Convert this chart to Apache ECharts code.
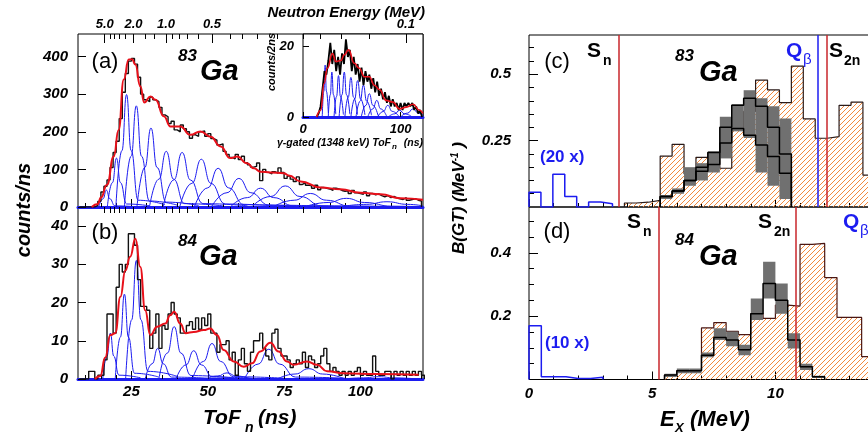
<!DOCTYPE html>
<html><head><meta charset="utf-8">
<script src="https://cdn.jsdelivr.net/npm/echarts@6/dist/echarts.min.js"></script>
<style>html,body{margin:0;padding:0;background:#fff}#c{width:868px;height:437px}</style>
</head><body><div id="c"></div>
<script>
// ---------------- DATA ----------------
// ToF histogram (a) 83Ga, 1 ns bins starting at 8 ns
const histAStart = 8, histAWidth = 1;
const histA = [0,0,0,0,0,4,15,40,55,72,105,145,175,235,305,355,388,395,380,345,300,285,280,292,285,280,265,245,240,222,228,205,200,218,208,200,183,192,188,200,202,188,195,182,178,165,168,148,140,132,128,140,126,135,118,112,106,108,117,70,100,92,88,94,90,104,92,76,82,74,68,80,60,64,58,56,50,58,46,52,50,48,44,50,48,44,42,43,36,44,38,36,34,40,30,36,32,35,30,27,30,25,28,24,22,20,25,18,20,22,18,16];
// fit (a) [ToF, counts/ns]
const fitA = [[12,0],[14,8],[15,25],[17,59],[19.2,134],[20.8,205],[22.5,339],[24.1,392],[25.2,393],[26.3,379],[27.9,321],[29.2,278],[31.2,294],[32.9,285],[35.6,241],[37.8,214],[41,214],[44.3,192],[47.6,201],[50.9,187],[54.2,161],[57.4,130],[59.6,134],[62.9,116],[65.1,103],[67.3,94],[70.5,92],[74.9,90],[76.5,84],[80.4,68],[86.9,52],[93.5,47],[100,38],[106.6,34],[113.1,23],[120.5,19]];
// individual response components (a)
const peaksA = [
 [[14.3,0],[15.7,22],[16.8,45],[17.9,22],[19.6,3],[26,1]],
 [[17.1,0],[18.8,65],[20.1,130],[21.4,65],[23.4,8],[31,3]],
 [[19.9,0],[21.9,150],[23.4,299],[24.9,150],[27.2,18],[36,6]],
 [[22.7,0],[24.9,135],[26.6,269],[28.3,135],[30.9,16],[40,5]],
 [[26.8,0],[29.4,105],[31.4,210],[33.4,105],[36.4,13],[47,4]],
 [[30.9,0],[34,74],[36.4,148],[38.8,74],[42.4,9],[55,3]],
 [[35.4,0],[38.9,72],[41.6,145],[44.3,72],[48.4,9],[63,3]],
 [[40.8,0],[44.8,63],[47.9,127],[51,63],[55.7,8],[72,3]],
 [[45.6,0],[50,51],[53.4,103],[56.8,51],[61.9,6],[80,2]],
 [[51.2,0],[56.3,38],[60.2,76],[64.1,38],[70,5],[90,2]],
 [[57.4,0],[63,25],[67.3,50],[71.6,25],[78,3],[100,1]],
 [[64.4,0],[70.6,28],[75.4,56],[80.2,28],[87.4,3],[110,1]],
 [[71.4,0],[78.3,18],[83.6,36],[88.9,18],[96.8,2],[118,1]],
 [[81.6,0],[89.4,12],[95.4,23],[101.4,12],[110.4,2],[120.5,1]],
 [[93,0],[101.9,7],[108.7,14],[115.5,7],[120.5,3]]
];
// ToF histogram (b) 84Ga, 1 ns bins starting at 8 ns
const histBStart = 8, histBWidth = 1;
const histB = [0,0,0,2,2,0,1,1,5,17,17,12,24,30,28,30,38,38,35,26,19,19,18,8,12,17,8,14,13,17,20,17,16,12,12,14,15,13,16,13,16,14,17,12,12,7,9,9,10,5,7,1,5,8,4,2,7,10,10,12,8,6,5,12,13,8,6,6,5,3,4,5,4,7,3,6,5,3,4,6,8,4,2,3,2,1,2,1,2,1,2,3,1,2,1,1,6,2,1,1,2,2,0,2,1,2,1,2,1,2,1,2,1];
const fitB = [[13,0],[14.8,0.8],[16.4,5.6],[18.1,11.5],[19.7,12],[21.4,21.5],[23,28.4],[24.6,32],[26.3,36.7],[27.9,29.3],[29.5,18],[31.2,11.5],[33.4,13.7],[36.1,14.5],[37.7,16.7],[39,17.6],[41,14.5],[42.7,12],[45.4,12.3],[48.7,12.8],[50.8,13.2],[53,11.5],[55.2,7.6],[58.5,4.6],[61.8,3.2],[64.5,4.1],[67.2,7.2],[70.5,9.5],[73.2,7.2],[75.9,4.6],[78.1,3.7],[82.5,4.6],[85.8,3.7],[89.1,2],[94.5,1.5],[105.4,1.3],[119.1,1.1]];
const peaksB = [
 [[15.6,0],[17,6],[18.1,12],[19.2,6],[20.9,1],[28,0.3]],
 [[19.7,0],[21.4,11],[22.7,22.2],[24,11],[26,1.5],[34,0.5]],
 [[23.1,0],[25.1,15.5],[26.6,31],[28.1,15.5],[30.4,2],[40,0.7]],
 [[29.5,0],[31.8,4],[33.6,8],[35.4,4],[38.1,0.5],[50,0.2]],
 [[34,0],[36.8,6.8],[39,13.7],[41.2,6.8],[44.5,0.9],[58,0.3]],
 [[39.6,0],[42.9,3.7],[45.4,7.4],[47.9,3.7],[51.6,0.5],[65,0.2]],
 [[45,0],[48.6,4.6],[51.4,9.3],[54.2,4.6],[58.4,0.6],[75,0.2]],
 [[49.4,0],[53.3,0.8],[56.3,1.6],[59.3,0.8],[63.8,0.1]],
 [[62,0],[66.5,3.9],[70,7.8],[73.5,3.9],[78.8,0.5],[95,0.2]],
 [[72.8,0],[78.6,1.3],[83.1,2.7],[87.6,1.3],[94.4,0.2]],
 [[94.5,0],[101,0.3],[106,0.6],[111,0.3],[118,0.05]]
];
// inset: gamma-gated ToF, 2 ns bins from 14 ns
const histInStart = 14, histInWidth = 2;
const histIn = [0,1,3,8,13,12,16,21,15,19,13,17,12,18,15,22,17,19,13,17,12,15,10,14,9,13,10,12,8,11,7,10,6,8,5,7,4,6,3,5,3,4,2,4,2,4,3,4,3,4,2,3,1,2];
const fitIn = [[14,0],[18.2,1.9],[21.6,9.5],[25,13.8],[30.2,18],[33.7,15.7],[38.8,16],[42.3,17.6],[46.7,19],[52.6,15.2],[57.7,13.8],[62.9,11.4],[68,11.4],[73.2,9],[78.4,7.8],[85.2,4.7],[92.1,4.2],[99,2.3],[105.9,2.8],[112.7,3.6],[119.6,1.9],[123,1]];
const peaksIn = [
 [[19.7,0],[21.4,7.3],[22.7,14.7],[24,7.3],[26,1]],
 [[25.9,0],[28,6.3],[29.6,12.7],[31.2,6.3],[33.6,0.8]],
 [[31.8,0],[34.4,5.8],[36.4,11.7],[38.4,5.8],[41.4,0.7]],
 [[37,0],[40,6.3],[42.3,12.7],[44.6,6.3],[48,0.8]],
 [[42.9,0],[46.4,5.6],[49.1,11.2],[51.8,5.6],[55.9,0.7]],
 [[49.1,0],[53,5.1],[56,10.3],[59,5.1],[63.5,0.6]],
 [[54.3,0],[58.6,4.5],[61.9,9],[65.2,4.5],[70.2,0.5]],
 [[59.7,0],[64.4,3.3],[68,6.6],[71.6,3.3],[77,0.4]],
 [[66.4,0],[71.6,2.3],[75.6,4.7],[79.6,2.3],[85.6,0.3]],
 [[76.5,0],[82.4,1.6],[86.9,3.3],[91.4,1.6],[98.2,0.2]],
 [[87.5,0],[94,0.9],[99,1.9],[104,0.9],[111.5,0.1]],
 [[100,0],[107.2,1.1],[112.7,2.3],[118.2,1.1],[123,0.5]]
];
// neutron energy ticks (MeV) on top axis; flight-path constant E*t^2 (MeV ns^2)
const flightK = 1320;
const energyMajor = [5, 2, 1, 0.5, 0.1];
const energyLabels = ['5.0', '2.0', '1.0', '0.5', '0.1'];
const energyMinor = [4, 3.5, 3, 2.5, 1.5, 1.25, 0.9, 0.8, 0.7, 0.6, 0.4, 0.35, 0.3, 0.25, 0.2, 0.175, 0.15, 0.125];
const tofMajor = [25, 50, 75, 100];
const tofMinor = [10, 15, 20, 30, 35, 40, 45, 55, 60, 65, 70, 80, 85, 90, 95, 105, 110, 115, 120];

// B(GT) panel (c) 83Ga, bin width 0.484 MeV from 0
const binWC = 0.484;
const blueC = [0.056, 0, 0.123, 0.040, 0, 0.019, 0.012];          // bins 0..6 (x20)
const orangeCStartBin = 8;
const orangeC = [0.015,0.018,0.025,0.192,0.236,0.125,0.187,0.205,0.146,0.30,0.36,0.478,0.441,0.393,0.531,0.332,0.259,0.265,0.383,0.395,0.12];
const bandCStartBin = 11;
const bandCLow  = [0.030,0.050,0.080,0.100,0.130,0.183,0.285,0.260,0.130,0.080,0.030];
const bandCHigh = [0.045,0.070,0.150,0.165,0.210,0.340,0.387,0.440,0.410,0.380,0.333];
const blackC = [0.040,0.060,0.100,0.135,0.160,0.241,0.296,0.270,0.234,0.190,0.127];
const blackC2 = [0.040,0.060,0.100,0.150,0.205,0.300,0.383,0.410,0.380,0.300,0.200];
// B(GT) panel (d) 84Ga, bin width 0.5 MeV from 0
const binWD = 0.5;
const blueD = [0.17, 0.009, 0.009, 0.003, 0.003, 0.007];
const orangeDStartBin = 11;
const orangeD = [0.014,0.028,0.030,0.163,0.180,0.152,0.142,0.208,0.193,0.235,0.232,0.427,0.430,0.322,0.196,0.196,0.072];
const bandDStartBin = 11;
const bandDLow  = [0.008,0.020,0.020,0.070,0.125,0.105,0.077,0.188,0.256,0.208,0.098,0.030,0.005];
const bandDHigh = [0.018,0.035,0.035,0.085,0.162,0.152,0.110,0.256,0.372,0.303,0.146,0.050,0.012];
const blackD = [0.014,0.028,0.028,0.077,0.133,0.125,0.094,0.208,0.303,0.250,0.125,0.040,0.009];
// thresholds (MeV)
const snC = 3.64, qbC = 11.73, s2nC = 12.07;
const snD = 5.26, s2nD = 10.83, qbD = 14.0;

// ---------------- HELPERS ----------------
const FONT = 'Liberation Sans';
const BLUE = '#1c1cf0', RED = '#e8101a', LRED = '#c8262b';
function histPts(start, width, vals) {
  const p = [[start, 0]];
  vals.forEach((v, i) => p.push([start + i * width, v]));
  const end = start + vals.length * width;
  p.push([end, vals[vals.length - 1]]);
  p.push([end, 0]);
  return p;
}
function bandData(startBin, w, lo, hi) {
  return lo.map((l, i) => [(startBin + i) * w, (startBin + i + 1) * w, l, hi[i]]);
}
const tof = e => Math.sqrt(flightK / e);
function hatch() {
  const c = document.createElement('canvas'); c.width = 5; c.height = 5;
  const g = c.getContext('2d');
  g.strokeStyle = '#f28a3e'; g.lineWidth = 1;
  g.beginPath();
  g.moveTo(0, 5); g.lineTo(5, 0);
  g.moveTo(-1, 1); g.lineTo(1, -1);
  g.moveTo(4, 6); g.lineTo(6, 4);
  g.stroke();
  return c;
}
const lbl = (size) => ({fontFamily: FONT, fontWeight: 'bold', fontStyle: 'italic', fontSize: size, color: '#000'});
function tickAxis(grid, pos, min, max, vals, len, extra) {
  return Object.assign({type: 'value', gridIndex: grid, position: pos, min, max,
    axisLine: {show: false}, splitLine: {show: false},
    axisLabel: {show: false},
    axisTick: {show: true, inside: true, length: len, customValues: vals, lineStyle: {color: '#000', width: 1}}}, extra || {});
}
function T(x, y, text, size, o) {
  o = o || {};
  return {type: 'text', x, y, rotation: o.r || 0, silent: true, z: 100,
    style: {text, fontFamily: FONT, fontSize: size, fontWeight: o.w || 'bold',
      fontStyle: o.i === false ? 'normal' : 'italic', fill: o.c || '#000',
      align: o.a || 'left', verticalAlign: 'middle', rich: o.rich}};
}

// ---------------- CHART ----------------
const chart = echarts.init(document.getElementById('c'), null, {renderer: 'canvas'});
const tMin = 7.5, tMax = 120.5, eMax = 15;
const gb = {show: true, borderColor: '#000', borderWidth: 1, backgroundColor: 'transparent', containLabel: false, outerBoundsMode: 'none'};
const grids = [
  Object.assign({left: 78, top: 34, width: 345, height: 173}, gb),
  Object.assign({left: 78, top: 207, width: 345, height: 172}, gb),
  Object.assign({left: 303, top: 34, width: 120, height: 83}, gb, {backgroundColor: '#fff'}),
  Object.assign({left: 529, top: 35, width: eMax * 24.64, height: 172}, gb),
  Object.assign({left: 529, top: 207, width: eMax * 24.64, height: 172.5}, gb)
];
const blueLine = {show: true, lineStyle: {color: BLUE, width: 3}};
const xAxes = [
  tickAxis(0, 'bottom', tMin, tMax, tofMajor, 8, {axisLine: blueLine}),
  tickAxis(0, 'bottom', tMin, tMax, tofMinor, 4),
  tickAxis(0, 'top', tMin, tMax, energyMajor.map(tof), 9, {axisLabel: {show: true, customValues: energyMajor.map(tof), margin: 3,
    formatter: v => { const i = energyMajor.findIndex(e => Math.abs(tof(e) - v) < 0.01); return i >= 0 ? energyLabels[i] : ''; }, ...lbl(13)}}),
  tickAxis(0, 'top', tMin, tMax, energyMinor.map(tof), 5),
  tickAxis(1, 'bottom', tMin, tMax, tofMajor, 8, {axisLine: blueLine, axisLabel: {show: true, customValues: tofMajor, margin: 5, ...lbl(15)}}),
  tickAxis(1, 'bottom', tMin, tMax, tofMinor, 4),
  tickAxis(1, 'top', tMin, tMax, energyMajor.map(tof).concat(energyMinor.map(tof)), 6),
  tickAxis(2, 'bottom', 0, 123, [0, 100], 5, {axisLine: blueLine, axisLabel: {show: true, customValues: [0, 100], margin: 6, ...lbl(13)}}),
  tickAxis(3, 'bottom', 0, eMax, [0, 5, 10, 15], 8),
  tickAxis(3, 'bottom', 0, eMax, [1,2,3,4,6,7,8,9,11,12,13,14], 4),
  tickAxis(4, 'bottom', 0, eMax, [0, 5, 10, 15], 8, {axisLabel: {show: true, customValues: [0, 5, 10, 15], margin: 7, ...lbl(15)}}),
  tickAxis(4, 'bottom', 0, eMax, [1,2,3,4,6,7,8,9,11,12,13,14], 4)
];
const yAxes = [
  tickAxis(0, 'left', 0, 460, [0,100,200,300,400], 8, {axisLabel: {show: true, customValues: [0,100,200,300,400], margin: 10, ...lbl(15)}}),
  tickAxis(1, 'left', 0, 45, [0,10,20,30,40], 8, {axisLabel: {show: true, customValues: [0,10,20,30,40], margin: 10, ...lbl(15)}}),
  tickAxis(2, 'left', 0, 23.5, [0, 20], 6, {axisLabel: {show: true, customValues: [0, 20], margin: 9, ...lbl(13)}}),
  tickAxis(3, 'left', 0, 0.648, [0.25, 0.5], 9, {axisLabel: {show: true, customValues: [0.25, 0.5], margin: 18, ...lbl(15)}}),
  tickAxis(3, 'left', 0, 0.648, [0.05,0.1,0.15,0.2,0.3,0.35,0.4,0.45,0.55,0.6], 5),
  tickAxis(4, 'left', 0, 0.545, [0.2, 0.4], 9, {axisLabel: {show: true, customValues: [0.2, 0.4], margin: 18, ...lbl(15)}}),
  tickAxis(4, 'left', 0, 0.545, [0.05,0.1,0.15,0.25,0.3,0.35,0.45,0.5], 5)
];

const series = [];
const curve = (data, xi, yi, color, width, z) => ({type: 'line', xAxisIndex: xi, yAxisIndex: yi, data, smooth: 0.5, smoothMonotone: 'x',
  showSymbol: false, silent: true, lineStyle: {color, width}, z});
const stepLine = (data, xi, yi, color, width, z, extra) => Object.assign({type: 'line', xAxisIndex: xi, yAxisIndex: yi, data, step: 'end',
  showSymbol: false, silent: true, lineStyle: {color, width}, z}, extra || {});
peaksA.forEach(p => series.push(curve(p, 0, 0, BLUE, 1, 2)));
series.push(stepLine(histPts(histAStart, histAWidth, histA), 0, 0, '#111', 1.4, 3));
series.push(curve(fitA, 0, 0, RED, 2, 4));
peaksB.forEach(p => series.push(curve(p, 4, 1, BLUE, 1, 2)));
series.push(stepLine(histPts(histBStart, histBWidth, histB), 4, 1, '#111', 1.4, 3));
series.push(curve(fitB, 4, 1, RED, 2, 4));
peaksIn.forEach(p => series.push(curve(p, 7, 2, BLUE, 1, 5)));
series.push(stepLine(histPts(histInStart, histInWidth, histIn), 7, 2, '#000', 1.8, 6));
series.push(curve(fitIn, 7, 2, RED, 1.6, 7));

const pattern = {image: hatch(), repeat: 'repeat'};
const vline = (x, color) => ({xAxis: x, lineStyle: {color, width: 1.5, type: 'solid'}});
const mark = (arr) => ({symbol: 'none', silent: true, label: {show: false}, animation: false, data: arr});
const bandSeries = (xi, yi, data) => ({type: 'custom', xAxisIndex: xi, yAxisIndex: yi, data, z: 3, silent: true, clip: true,
  encode: {x: [0, 1], y: [2, 3]},
  renderItem: (params, api) => {
    const p0 = api.coord([api.value(0), api.value(3)]);
    const p1 = api.coord([api.value(1), api.value(2)]);
    return {type: 'rect', shape: {x: p0[0], y: p0[1], width: p1[0] - p0[0], height: p1[1] - p0[1]}, style: {fill: '#707070'}};
  }});
series.push(stepLine(histPts(orangeCStartBin * binWC, binWC, orangeC), 8, 3, '#2a1a18', 1.2, 2,
  {areaStyle: {color: pattern, opacity: 1}, markLine: mark([vline(snC, LRED), vline(qbC, BLUE), vline(s2nC, LRED)])}));
series.push(bandSeries(8, 3, bandData(bandCStartBin, binWC, bandCLow, bandCHigh)));
series.push(stepLine(histPts(bandCStartBin * binWC, binWC, blackC), 8, 3, '#000', 1.5, 4));
series.push(stepLine(histPts(bandCStartBin * binWC, binWC, blackC2), 8, 3, '#000', 1.5, 4));
series.push(stepLine(histPts(0, binWC, blueC), 8, 3, BLUE, 1.5, 4));
series.push(stepLine(histPts(orangeDStartBin * binWD, binWD, orangeD), 10, 5, '#4a1612', 1.2, 2,
  {areaStyle: {color: pattern, opacity: 1}, markLine: mark([vline(snD, LRED), vline(s2nD, LRED), vline(qbD, BLUE)])}));
series.push(bandSeries(10, 5, bandData(bandDStartBin, binWD, bandDLow, bandDHigh)));
series.push(stepLine(histPts(bandDStartBin * binWD, binWD, blackD), 10, 5, '#000', 1.5, 4));
series.push(stepLine(histPts(0, binWD, blueD), 10, 5, BLUE, 1.5, 4));

const graphic = [
  T(425, 13, 'Neutron Energy (MeV)', 15, {a: 'right'}),
  T(105, 62, '(a)', 22, {a: 'center', w: 'normal', i: false}),
  T(178, 56, '83', 17), T(200, 72, 'Ga', 29),
  T(105, 233, '(b)', 22, {a: 'center', w: 'normal', i: false}),
  T(178, 241, '84', 17), T(199, 257, 'Ga', 29),
  T(24, 210, 'counts/ns', 20, {a: 'center', r: Math.PI / 2}),
  T(203, 418, 'ToF', 21), T(245, 428, 'n', 14), T(258, 418, '(ns)', 21),
  T(272, 62, 'counts/2ns', 11, {a: 'center', r: Math.PI / 2}),
  T(391, 143, 'γ-gated (1348 keV) ToF', 10.5, {a: 'right'}), T(392, 147, 'n', 8), T(423, 143, '(ns)', 10.5, {a: 'right'}),
  T(459, 198, '{a|B(GT) (MeV}{s|-1}{a| )}', 17, {a: 'center', r: Math.PI / 2, rich: {
    a: {fontFamily: FONT, fontWeight: 'bold', fontStyle: 'italic', fontSize: 17},
    s: {fontFamily: FONT, fontWeight: 'bold', fontStyle: 'italic', fontSize: 10, verticalAlign: 'top'}}}),
  T(557, 62, '(c)', 22, {a: 'center', w: 'normal', i: false}),
  T(587, 51, 'S', 21, {i: false}), T(603, 61, 'n', 14, {i: false}),
  T(675, 56, '83', 17), T(699, 73, 'Ga', 29),
  T(786, 51, 'Q', 21, {i: false, c: BLUE}), T(803, 60, 'β', 15, {i: false, w: 'normal', c: BLUE}),
  T(829, 51, 'S', 21, {i: false}), T(844, 61, '2n', 14, {i: false}),
  T(540, 157, '(20 x)', 17, {i: false, c: BLUE}),
  T(557, 232, '(d)', 22, {a: 'center', w: 'normal', i: false}),
  T(627, 222, 'S', 21, {i: false}), T(643, 232, 'n', 14, {i: false}),
  T(758, 222, 'S', 21, {i: false}), T(774, 232, '2n', 14, {i: false}),
  T(843, 222, 'Q', 21, {i: false, c: BLUE}), T(860, 231, 'β', 15, {i: false, w: 'normal', c: BLUE}),
  T(675, 240, '84', 17), T(699, 257, 'Ga', 29),
  T(545, 343, '(10 x)', 17, {i: false, c: BLUE}),
  T(660, 420, 'E', 22), T(675, 428, 'X', 13), T(690, 420, '(MeV)', 22)
];

chart.setOption({animation: false, backgroundColor: '#fff', grid: grids, xAxis: xAxes, yAxis: yAxes, series, graphic});
</script></body></html>
